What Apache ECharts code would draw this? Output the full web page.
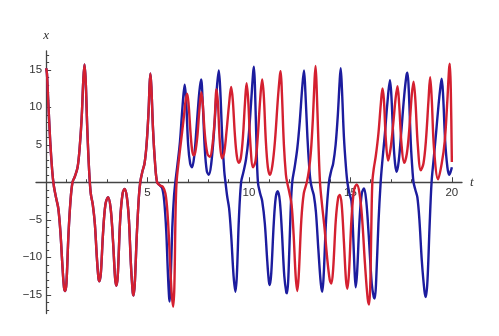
<!DOCTYPE html>
<html>
<head>
<meta charset="utf-8">
<script src="https://cdn.jsdelivr.net/npm/echarts@6/dist/echarts.min.js"></script>
<style>
html,body{margin:0;padding:0;background:#fff;}
#c{width:499px;height:336px;}
</style>
</head>
<body>
<div id="c"></div>
<script>
// t tick positions and labels
const majorT = [5, 10, 15, 20];
const minorT = [1, 2, 3, 4, 6, 7, 8, 9, 11, 12, 13, 14, 16, 17, 18, 19];
const majorX = [-15, -10, -5, 5, 10, 15];
const minorX = [-17, -16, -14, -13, -12, -11, -9, -8, -7, -6, -4, -3, -2, -1, 1, 2, 3, 4, 6, 7, 8, 9, 11, 12, 13, 14, 16, 17];

// red trajectory [t, x]
const redSeries = [
[0,15.2],[0.04,14.5],[0.1,11],[0.2,5.5],[0.3,1.5],[0.38,-0.5],[0.5,-2.2],[0.6,-3.5],[0.7,-6.5],[0.8,-11],[0.88,-14],[0.94,-14.5],[1.0,-13.5],[1.1,-7],[1.2,-2.5],[1.3,0],[1.42,0.8],[1.55,2],[1.65,4.5],[1.75,8.5],[1.83,13.5],[1.89,15.7],[1.95,13.5],[2.03,7],[2.12,1.5],[2.2,-1.5],[2.3,-3],[2.4,-5.5],[2.5,-10],[2.58,-12.8],[2.63,-13.2],[2.7,-12],[2.8,-7],[2.92,-3],[3.05,-2],[3.18,-3.5],[3.3,-8],[3.4,-12.8],[3.46,-13.8],[3.53,-12.5],[3.65,-5],[3.77,-1.5],[3.87,-0.9],[3.98,-2],[4.08,-5],[4.18,-11],[4.27,-14.7],[4.31,-15.1],[4.37,-13.5],[4.47,-7],[4.57,-2],[4.64,0],[4.75,1.5],[4.85,2.5],[4.95,5],[5.05,9.5],[5.1,13],[5.14,14.5],[5.19,12.5],[5.27,7],[5.37,2.5],[5.47,0],[5.6,-0.4],[5.75,-0.6],[5.88,-1.5],[5.98,-4],[6.08,-9],[6.18,-14.5],[6.26,-16.6],[6.32,-14],[6.38,-4],[6.43,0],[6.53,2.7],[6.65,5.5],[6.78,8.5],[6.88,11],[6.95,11.8],[7.02,10.5],[7.12,6.5],[7.2,4.2],[7.27,3.6],[7.35,4],[7.45,6],[7.55,9.5],[7.65,12],[7.72,10.5],[7.82,6.5],[7.95,3.8],[8.07,3.4],[8.18,4.5],[8.3,8],[8.4,12.4],[8.47,10.5],[8.56,5.5],[8.67,3.2],[8.78,4],[8.9,7],[9.02,10.5],[9.12,12.7],[9.2,11],[9.3,6.5],[9.4,3.5],[9.5,2.6],[9.6,3.3],[9.7,6],[9.8,10.5],[9.88,13.2],[9.96,11],[10.06,5.5],[10.2,2.0],[10.32,2.8],[10.43,6],[10.55,11],[10.65,13.7],[10.73,11.5],[10.83,5.5],[10.93,2],[11.03,1.0],[11.15,2.2],[11.28,5.5],[11.42,11],[11.52,14.2],[11.56,14.8],[11.62,12],[11.72,5],[11.82,1],[11.88,0],[12.0,-1.5],[12.1,-3],[12.2,-7],[12.3,-12.5],[12.38,-14.5],[12.45,-12.5],[12.58,-5],[12.7,-1.5],[12.85,0],[12.95,1.5],[13.05,4],[13.15,8.5],[13.23,13.5],[13.28,15.5],[13.33,13],[13.42,5.5],[13.5,0],[13.6,-3],[13.72,-6],[13.85,-10],[13.98,-13],[14.06,-13.5],[14.15,-11.5],[14.28,-5],[14.4,-2],[14.48,-1.7],[14.57,-3],[14.68,-8],[14.78,-13],[14.85,-14.2],[14.93,-12],[15.05,-5],[15.18,-1],[15.31,-0.3],[15.45,-1.5],[15.58,-5],[15.72,-11],[15.85,-15.5],[15.92,-16.3],[15.98,-13.5],[16.03,-6],[16.08,0],[16.15,1.8],[16.25,3.5],[16.38,6.5],[16.5,10.5],[16.58,12.5],[16.65,11],[16.75,5.5],[16.86,2.9],[16.98,4.5],[17.1,7.5],[17.22,11],[17.32,12.8],[17.4,10.5],[17.52,5],[17.65,2.6],[17.78,3.8],[17.9,7],[18.02,11.5],[18.11,13.4],[18.2,11],[18.32,5],[18.47,1.6],[18.6,2.5],[18.72,5.5],[18.85,11],[18.93,14.0],[19.01,11],[19.12,4.5],[19.32,0.4],[19.5,2.5],[19.65,5.5],[19.78,11],[19.86,15],[19.9,15.8],[19.95,12],[20.0,2.7]
];

// blue trajectory [t, x]
const blueSeries = [
[0,15.2],[0.04,14.5],[0.1,11],[0.2,5.5],[0.3,1.5],[0.38,-0.5],[0.5,-2.2],[0.6,-3.5],[0.7,-6.5],[0.8,-11],[0.88,-14],[0.94,-14.5],[1.0,-13.5],[1.1,-7],[1.2,-2.5],[1.3,0],[1.42,0.8],[1.55,2],[1.65,4.5],[1.75,8.5],[1.83,13.5],[1.89,15.7],[1.95,13.5],[2.03,7],[2.12,1.5],[2.2,-1.5],[2.3,-3],[2.4,-5.5],[2.5,-10],[2.58,-12.8],[2.63,-13.2],[2.7,-12],[2.8,-7],[2.92,-3],[3.05,-2],[3.18,-3.5],[3.3,-8],[3.4,-12.8],[3.46,-13.8],[3.53,-12.5],[3.65,-5],[3.77,-1.5],[3.87,-0.9],[3.98,-2],[4.08,-5],[4.18,-11],[4.27,-14.7],[4.31,-15.1],[4.37,-13.5],[4.47,-7],[4.57,-2],[4.64,0],[4.75,1.5],[4.85,2.5],[4.95,5],[5.05,9.5],[5.1,13],[5.14,14.5],[5.19,12.5],[5.27,7],[5.37,2.5],[5.47,0],[5.6,-0.4],[5.72,-0.8],[5.82,-2.5],[5.92,-6.5],[6.0,-12],[6.06,-15.3],[6.09,-15.9],[6.14,-13],[6.22,-6],[6.3,-2],[6.37,0],[6.48,2.5],[6.6,5.5],[6.72,10],[6.83,13.0],[6.9,11],[7.0,5],[7.1,2.5],[7.19,2.0],[7.3,3.5],[7.42,7.5],[7.55,12],[7.64,13.7],[7.72,10.5],[7.82,4.5],[7.92,1.5],[8.02,1.0],[8.14,2.5],[8.27,6.5],[8.4,12],[8.51,14.9],[8.58,12.5],[8.68,6],[8.78,1.5],[8.84,0],[8.92,-1.8],[9.02,-3.5],[9.12,-7],[9.24,-12.5],[9.33,-14.6],[9.4,-12.5],[9.5,-5],[9.61,0],[9.72,1.3],[9.85,3],[9.98,6],[10.1,10.5],[10.2,14.5],[10.24,15.4],[10.29,13],[10.36,6],[10.44,0],[10.55,-1.5],[10.65,-2.5],[10.78,-5.5],[10.9,-10.5],[10.98,-13.2],[11.03,-13.7],[11.1,-12],[11.22,-5.5],[11.32,-2],[11.42,-1.2],[11.52,-2.5],[11.62,-6.5],[11.74,-12.5],[11.84,-14.7],[11.88,-14.8],[11.95,-12],[12.05,-4],[12.13,0],[12.25,2],[12.38,4.5],[12.5,8],[12.62,12.5],[12.71,14.9],[12.78,12],[12.88,6],[12.97,2],[13.04,0],[13.12,-1],[13.2,-1.8],[13.3,-4],[13.42,-9],[13.54,-13.5],[13.61,-14.6],[13.68,-12.5],[13.8,-5],[13.94,0],[14.05,1.5],[14.15,2.5],[14.27,5],[14.38,9],[14.47,13.5],[14.52,15.2],[14.58,12.5],[14.68,6],[14.78,2],[14.85,0],[14.95,-1.5],[15.05,-2.5],[15.12,-6],[15.2,-11.5],[15.26,-14],[15.33,-12],[15.45,-5],[15.56,-1.5],[15.67,-0.84],[15.78,-2.5],[15.9,-7],[16.05,-13.5],[16.15,-15.3],[16.2,-15.5],[16.27,-13],[16.38,-5.5],[16.49,0],[16.58,3],[16.7,6.5],[16.82,10.5],[16.95,13.6],[17.02,11.5],[17.12,5.5],[17.2,2.5],[17.28,1.4],[17.38,2.8],[17.5,6.5],[17.65,11.5],[17.76,14.2],[17.81,14.6],[17.88,12],[17.98,5],[18.06,1.5],[18.11,0],[18.2,-1],[18.3,-2],[18.4,-5],[18.52,-10.5],[18.65,-14.5],[18.72,-15.3],[18.8,-13],[18.9,-6],[19.0,0],[19.1,3],[19.22,6.5],[19.35,10.5],[19.45,13],[19.5,13.8],[19.57,11.5],[19.67,5.5],[19.78,2],[19.87,1.0],[19.95,1.5],[20.0,2.0]
];

const AX = '#444';
const LBL = {color:'#333', fontSize:11.5, fontFamily:'Liberation Sans, Arial, sans-serif'};
const fmtNum = v => (v < 0 ? '\u2212' + Math.abs(v) : String(v));

const GL = 36, GT = 51, GW = 426, GH = 262.5;
const XMIN = -0.5, XMAX = 20.5, YMIN = -17.5, YMAX = 17.5;
// offsets that move the axes onto t = 0 and x = 0
const xOff = -(GH * (0 - YMIN) / (YMAX - YMIN));
const yOff = -(GW * (0 - XMIN) / (XMAX - XMIN));

const chart = echarts.init(document.getElementById('c'), null, {renderer:'canvas'});
chart.setOption({
  animation:false,
  backgroundColor:'#fff',
  grid:{left:GL, top:GT, width:GW, height:GH, containLabel:false},
  xAxis:[
    {type:'value', min:XMIN, max:XMAX, position:'bottom', offset:xOff,
     axisLine:{show:true, onZero:false, lineStyle:{color:AX, width:1.3}},
     axisTick:{show:true, inside:true, length:5, customValues:majorT, lineStyle:{color:AX, width:1}},
     axisLabel:{show:true, customValues:majorT, margin:5, ...LBL},
     splitLine:{show:false},
     name:'t', nameLocation:'end', nameGap:8,
     nameTextStyle:{fontStyle:'italic', fontSize:13, color:'#333', fontFamily:'Liberation Serif, serif'}
    },
    {type:'value', min:XMIN, max:XMAX, position:'bottom', offset:xOff,
     axisLine:{show:false, onZero:false},
     axisTick:{show:true, inside:true, length:3, customValues:minorT, lineStyle:{color:AX, width:1}},
     axisLabel:{show:false},
     splitLine:{show:false}
    }
  ],
  yAxis:[
    {type:'value', min:YMIN, max:YMAX, position:'left', offset:yOff,
     axisLine:{show:true, onZero:false, lineStyle:{color:AX, width:1.3}},
     axisTick:{show:true, inside:true, length:5, customValues:majorX, lineStyle:{color:AX, width:1}},
     axisLabel:{show:true, customValues:majorX, margin:4, formatter:fmtNum, ...LBL},
     splitLine:{show:false},
     name:'x', nameLocation:'end', nameGap:9,
     nameTextStyle:{fontStyle:'italic', fontSize:13, color:'#333', fontFamily:'Liberation Serif, serif'}
    },
    {type:'value', min:YMIN, max:YMAX, position:'left', offset:yOff,
     axisLine:{show:false, onZero:false},
     axisTick:{show:true, inside:true, length:3, customValues:minorX, lineStyle:{color:AX, width:1}},
     axisLabel:{show:false},
     splitLine:{show:false}
    }
  ],
  series:[
    {type:'line', name:'blue', xAxisIndex:0, yAxisIndex:0, data:blueSeries, smooth:0.35, showSymbol:false,
     lineStyle:{color:'#1c1c9e', width:2.4}, z:2},
    {type:'line', name:'red', xAxisIndex:0, yAxisIndex:0, data:redSeries, smooth:0.35, showSymbol:false,
     lineStyle:{color:'#d42030', width:2.4}, z:3}
  ]
});
</script>
</body>
</html>
